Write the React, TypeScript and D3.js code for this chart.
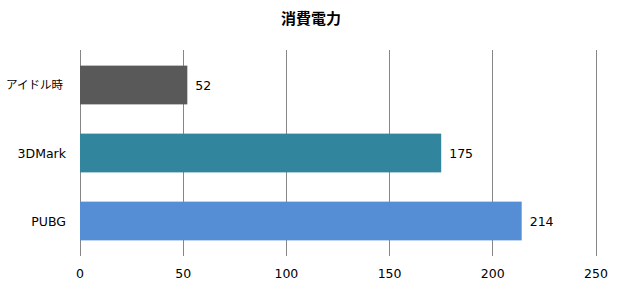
import React from "react";
import * as d3 from "d3";

const categories = ["アイドル時", "3DMark", "PUBG"];
const values = [52, 175, 214];
const colors = ["#595959", "#31859C", "#558ED5"];
const ticks = [0, 50, 100, 150, 200, 250];
const title = "消費電力";

const W = 620;
const H = 290;
const FONT = "'DejaVu Sans', Verdana, 'Noto Sans CJK JP', sans-serif";

export default function App() {
  const x = d3.scaleLinear().domain([0, 250]).range([80, 596]);
  const y = d3
    .scaleBand<string>()
    .domain(categories)
    .range([51, 255])
    .paddingInner(0.43)
    .paddingOuter(0.215);
  const isCJK = (s: string) => /[\u3000-\u9fff]/.test(s);
  return (
    <svg
      width={W}
      height={H}
      style={{ position: "absolute", left: 0, top: 0, background: "#fff" }}
    >
      <text
        x={311}
        y={23.5}
        textAnchor="middle"
        fontFamily="'Noto Sans CJK JP', sans-serif"
        fontWeight="bold"
        fontSize={15}
        fill="#000"
      >
        {title}
      </text>
      {ticks.map((t) => (
        <g key={t}>
          <line
            x1={x(t)}
            x2={x(t)}
            y1={50}
            y2={256}
            stroke="#868686"
            strokeWidth={1}
            shapeRendering="crispEdges"
          />
          <text
            x={x(t)}
            y={278}
            textAnchor="middle"
            fontFamily={FONT}
            fontSize={12.5}
            fill="#000"
          >
            {t}
          </text>
        </g>
      ))}
      {categories.map((c, i) => (
        <g key={c}>
          <rect
            x={x(0)}
            y={y(c)!}
            width={x(values[i]) - x(0)}
            height={y.bandwidth()}
            fill={colors[i]}
          />
          <text
            x={x(values[i]) + 8}
            y={y(c)! + y.bandwidth() / 2}
            dy="0.36em"
            fontFamily={FONT}
            fontSize={12.5}
            fill="#000"
          >
            {values[i]}
          </text>
          <text
            x={isCJK(c) ? 63 : 66}
            y={y(c)! + y.bandwidth() / 2}
            dy="0.36em"
            textAnchor="end"
            fontFamily={isCJK(c) ? "'Noto Sans CJK JP', sans-serif" : FONT}
            fontSize={isCJK(c) ? 11.5 : 12.5}
            fill="#000"
          >
            {c}
          </text>
        </g>
      ))}
    </svg>
  );
}
